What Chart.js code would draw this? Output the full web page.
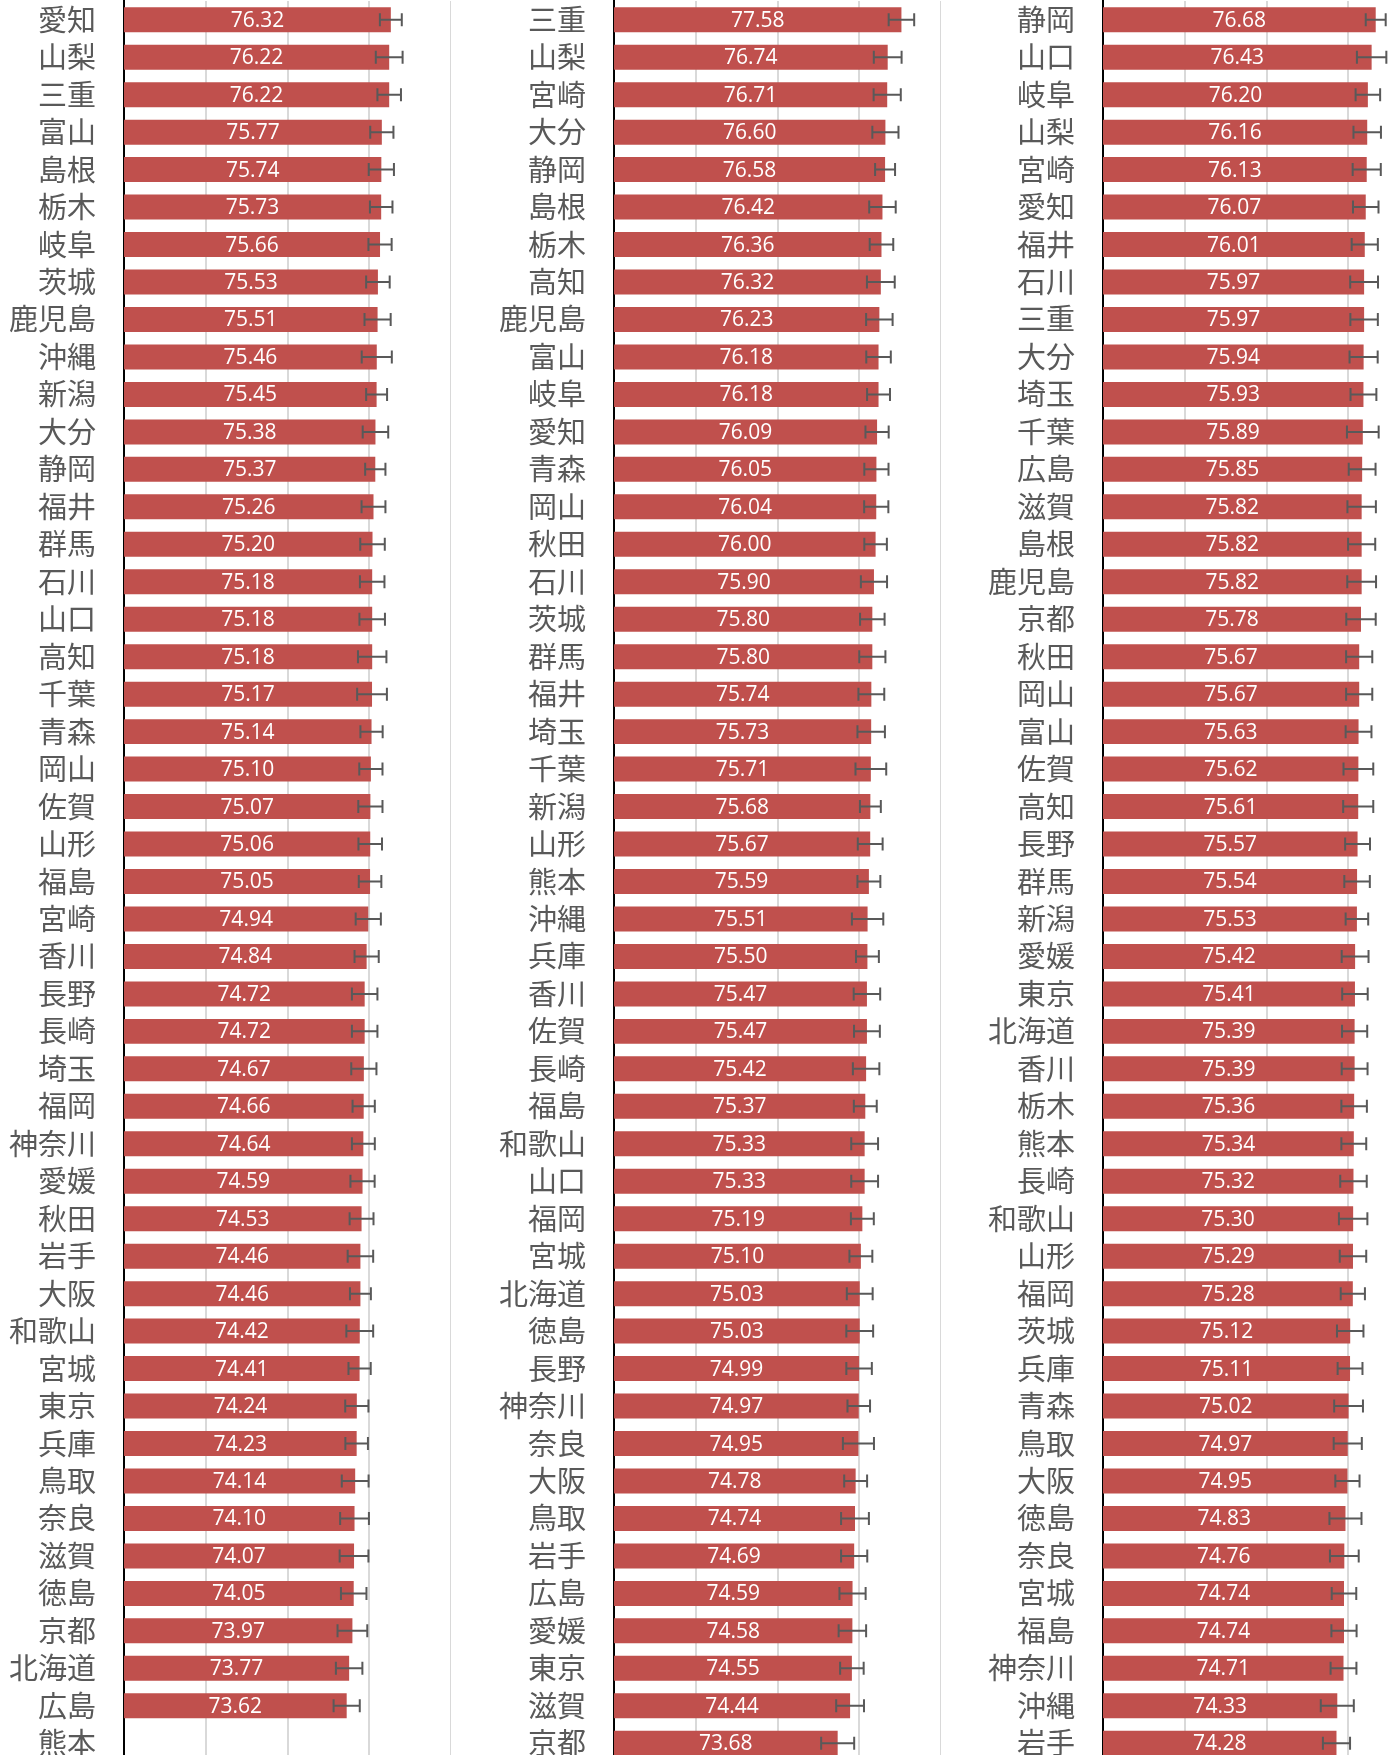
<!DOCTYPE html>
<html>
<head>
<meta charset="utf-8">
<script src="https://cdn.jsdelivr.net/npm/chart.js@4.4.0/dist/chart.umd.min.js"></script>
<style>
  html, body { margin: 0; padding: 0; background: #fff; overflow: hidden; }
  #wrap { position: relative; width: 1398px; height: 1755px; overflow: hidden; }
  .panel { position: absolute; top: 0; width: 490px; height: 1763px; }
</style>
</head>
<body>
<div id="wrap">
  <div class="panel" style="left:-39px"><canvas id="chart1" width="490" height="1763"></canvas></div>
  <div class="panel" style="left:451px"><canvas id="chart2" width="490" height="1763"></canvas></div>
  <div class="panel" style="left:940px"><canvas id="chart3" width="490" height="1763"></canvas></div>
</div>
<script>
const labels1 = ["愛知", "山梨", "三重", "富山", "島根", "栃木", "岐阜", "茨城", "鹿児島", "沖縄",
  "新潟", "大分", "静岡", "福井", "群馬", "石川", "山口", "高知", "千葉", "青森",
  "岡山", "佐賀", "山形", "福島", "宮崎", "香川", "長野", "長崎", "埼玉", "福岡",
  "神奈川", "愛媛", "秋田", "岩手", "大阪", "和歌山", "宮城", "東京", "兵庫", "鳥取",
  "奈良", "滋賀", "徳島", "京都", "北海道", "広島", "熊本"];
const values1 = [76.32, 76.22, 76.22, 75.77, 75.74, 75.73, 75.66, 75.53, 75.51, 75.46,
  75.45, 75.38, 75.37, 75.26, 75.20, 75.18, 75.18, 75.18, 75.17, 75.14,
  75.10, 75.07, 75.06, 75.05, 74.94, 74.84, 74.72, 74.72, 74.67, 74.66,
  74.64, 74.59, 74.53, 74.46, 74.46, 74.42, 74.41, 74.24, 74.23, 74.14,
  74.10, 74.07, 74.05, 73.97, 73.77, 73.62, null];
const errors1 = [0.67, 0.82, 0.72, 0.71, 0.77, 0.69, 0.71, 0.72, 0.80, 0.92,
  0.64, 0.78, 0.62, 0.73, 0.75, 0.75, 0.78, 0.87, 0.91, 0.68,
  0.71, 0.74, 0.72, 0.69, 0.77, 0.74, 0.78, 0.78, 0.77, 0.68,
  0.70, 0.74, 0.73, 0.78, 0.64, 0.82, 0.68, 0.71, 0.69, 0.82,
  0.88, 0.88, 0.78, 0.91, 0.81, 0.80, null];

const labels2 = ["三重", "山梨", "宮崎", "大分", "静岡", "島根", "栃木", "高知", "鹿児島", "富山",
  "岐阜", "愛知", "青森", "岡山", "秋田", "石川", "茨城", "群馬", "福井", "埼玉",
  "千葉", "新潟", "山形", "熊本", "沖縄", "兵庫", "香川", "佐賀", "長崎", "福島",
  "和歌山", "山口", "福岡", "宮城", "北海道", "徳島", "長野", "神奈川", "奈良", "大阪",
  "鳥取", "岩手", "広島", "愛媛", "東京", "滋賀", "京都"];
const values2 = [77.58, 76.74, 76.71, 76.60, 76.58, 76.42, 76.36, 76.32, 76.23, 76.18,
  76.18, 76.09, 76.05, 76.04, 76.00, 75.90, 75.80, 75.80, 75.74, 75.73,
  75.71, 75.68, 75.67, 75.59, 75.51, 75.50, 75.47, 75.47, 75.42, 75.37,
  75.33, 75.33, 75.19, 75.10, 75.03, 75.03, 74.99, 74.97, 74.95, 74.78,
  74.74, 74.69, 74.59, 74.58, 74.55, 74.44, 73.68];
const errors2 = [0.78, 0.85, 0.83, 0.80, 0.61, 0.81, 0.72, 0.85, 0.81, 0.75,
  0.70, 0.71, 0.74, 0.74, 0.69, 0.80, 0.75, 0.80, 0.79, 0.84,
  0.94, 0.64, 0.76, 0.70, 0.96, 0.70, 0.81, 0.79, 0.81, 0.70,
  0.82, 0.82, 0.70, 0.70, 0.79, 0.82, 0.78, 0.69, 0.95, 0.70,
  0.85, 0.80, 0.80, 0.84, 0.72, 0.85, 1.01];

const labels3 = ["静岡", "山口", "岐阜", "山梨", "宮崎", "愛知", "福井", "石川", "三重", "大分",
  "埼玉", "千葉", "広島", "滋賀", "島根", "鹿児島", "京都", "秋田", "岡山", "富山",
  "佐賀", "高知", "長野", "群馬", "新潟", "愛媛", "東京", "北海道", "香川", "栃木",
  "熊本", "長崎", "和歌山", "山形", "福岡", "茨城", "兵庫", "青森", "鳥取", "大阪",
  "徳島", "奈良", "宮城", "福島", "神奈川", "沖縄", "岩手"];
const values3 = [76.68, 76.43, 76.20, 76.16, 76.13, 76.07, 76.01, 75.97, 75.97, 75.94,
  75.93, 75.89, 75.85, 75.82, 75.82, 75.82, 75.78, 75.67, 75.67, 75.63,
  75.62, 75.61, 75.57, 75.54, 75.53, 75.42, 75.41, 75.39, 75.39, 75.36,
  75.34, 75.32, 75.30, 75.29, 75.28, 75.12, 75.11, 75.02, 74.97, 74.95,
  74.83, 74.76, 74.74, 74.74, 74.71, 74.33, 74.28];
const errors3 = [0.61, 0.90, 0.75, 0.84, 0.86, 0.78, 0.80, 0.85, 0.84, 0.86,
  0.79, 0.97, 0.82, 0.87, 0.83, 0.88, 0.90, 0.80, 0.80, 0.79,
  0.91, 0.92, 0.76, 0.78, 0.69, 0.82, 0.78, 0.77, 0.79, 0.78,
  0.76, 0.81, 0.87, 0.81, 0.74, 0.81, 0.76, 0.88, 0.86, 0.74,
  0.98, 0.88, 0.75, 0.77, 0.79, 1.01, 0.83];

const barColor = "#C0504D";
const textGray = "#595959";

// error bars + white value labels, drawn with the x scale
const barExtras = {
  id: "barExtras",
  afterDatasetsDraw(chart, args, opts) {
    const ctx = chart.ctx;
    const xScale = chart.scales.x;
    const meta = chart.getDatasetMeta(0);
    const values = chart.data.datasets[0].data;
    const errors = opts.errors;
    const basePx = xScale.getPixelForValue(xScale.min);
    ctx.save();
    meta.data.forEach((bar, i) => {
      const v = values[i];
      if (v === null || v === undefined) return;
      const p = bar.getProps(["x", "y"], true);
      const endPx = xScale.getPixelForValue(v);
      // value label
      ctx.fillStyle = "#ffffff";
      ctx.font = '21px "Open Sans", "Liberation Sans", sans-serif';
      ctx.textAlign = "center";
      ctx.textBaseline = "middle";
      ctx.fillText(v.toFixed(2), (basePx + endPx) / 2, p.y + 1);
      // error bar
      const e = errors[i];
      const x1 = xScale.getPixelForValue(v - e);
      const x2 = xScale.getPixelForValue(v + e);
      ctx.strokeStyle = textGray;
      ctx.lineWidth = 2;
      ctx.beginPath();
      ctx.moveTo(x1, p.y);
      ctx.lineTo(x2, p.y);
      ctx.moveTo(x1, p.y - 6.5);
      ctx.lineTo(x1, p.y + 6.5);
      ctx.moveTo(x2, p.y - 6.5);
      ctx.lineTo(x2, p.y + 6.5);
      ctx.stroke();
    });
    ctx.restore();
  },
};

function makeChart(id, labels, values, errors) {
  const ctx = document.getElementById(id).getContext("2d");
  return new Chart(ctx, {
    type: "bar",
    data: {
      labels: labels,
      datasets: [
        {
          data: values,
          backgroundColor: barColor,
          categoryPercentage: 1,
          barPercentage: 0.667,
        },
      ],
    },
    plugins: [barExtras],
    options: {
      indexAxis: "y",
      responsive: false,
      animation: false,
      devicePixelRatio: 1,
      layout: { padding: { top: 1, bottom: 1, left: 0, right: 0 } },
      plugins: {
        legend: { display: false },
        tooltip: { enabled: false },
        barExtras: { errors: errors },
      },
      scales: {
        x: {
          min: 60,
          max: 80,
          ticks: { display: false, stepSize: 5 },
          grid: { color: "#d9d9d9", lineWidth: 2, drawTicks: false },
          border: { display: false },
        },
        y: {
          grid: { display: false, drawTicks: false },
          border: { display: true, color: "#000000", width: 2 },
          ticks: {
            autoSkip: false,
            padding: 28,
            color: textGray,
            font: { family: '"Noto Sans CJK JP"', size: 29 },
          },
          afterFit: (scale) => {
            scale.width = 163;
            scale.paddingTop = 0;
            scale.paddingBottom = 0;
          },
        },
      },
    },
  });
}

makeChart("chart1", labels1, values1, errors1);
makeChart("chart2", labels2, values2, errors2);
makeChart("chart3", labels3, values3, errors3);
</script>
</body>
</html>
